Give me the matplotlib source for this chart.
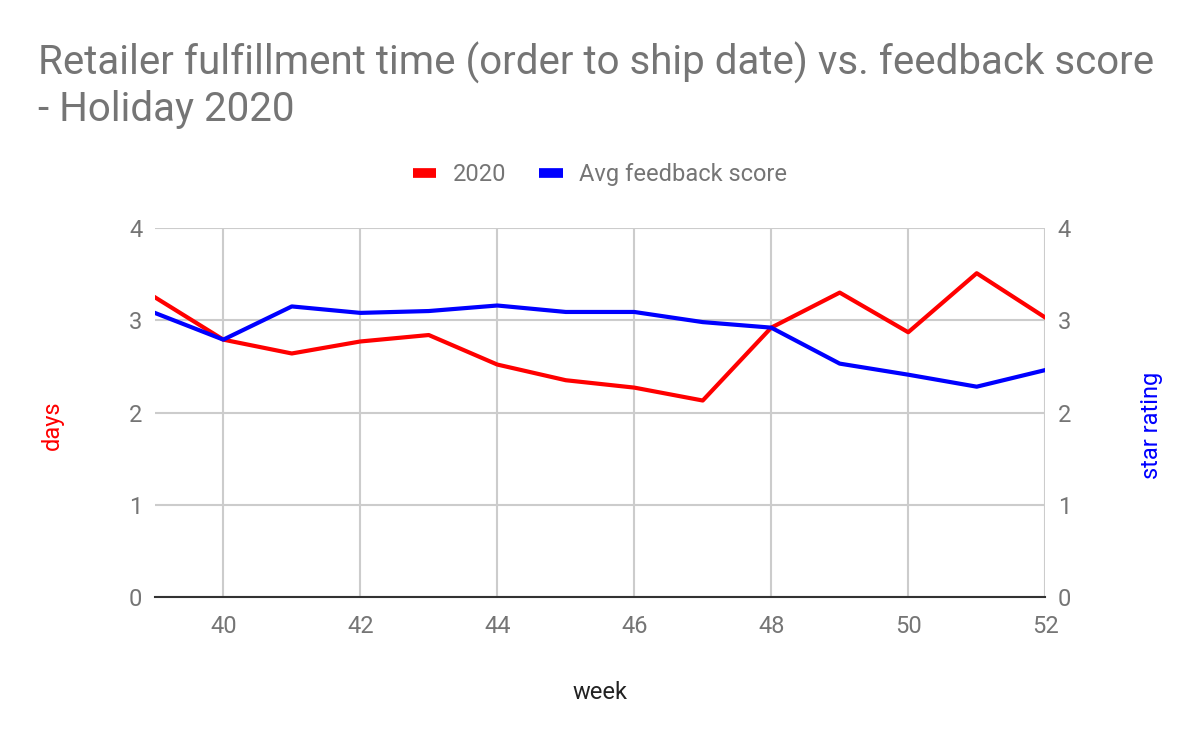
import matplotlib
matplotlib.use("Agg")
import matplotlib.pyplot as plt

plt.rcParams['font.family'] = ['Roboto', 'DejaVu Sans']

weeks = [39, 40, 41, 42, 43, 44, 45, 46, 47, 48, 49, 50, 51, 52]
days_2020 = [3.25, 2.79, 2.64, 2.77, 2.84, 2.52, 2.35, 2.27, 2.13, 2.92, 3.30, 2.87, 3.51, 3.03]
feedback = [3.08, 2.79, 3.15, 3.08, 3.10, 3.16, 3.09, 3.09, 2.98, 2.92, 2.53, 2.41, 2.28, 2.46]
x_ticks = [40, 42, 44, 46, 48, 50, 52]
y_ticks = [0, 1, 2, 3, 4]

grey = '#757575'
grid_c = '#cccccc'

fig = plt.figure(figsize=(12, 7.42), dpi=100)
ax = fig.add_axes([0.129, 0.1954, 0.742, 0.4973])
ax2 = ax.twinx()

ax.plot(weeks, days_2020, color='#ff0000', lw=3, label='2020', zorder=3)
ax2.plot(weeks, feedback, color='#0000ff', lw=3, label='Avg feedback score', zorder=3)

ax.set_xlim(39, 52)
ax.set_ylim(0, 4)
ax2.set_ylim(0, 4)
ax.set_xticks(x_ticks)
ax.set_yticks(y_ticks)
ax2.set_yticks(y_ticks)
ax.grid(True, color=grid_c, lw=1.5)
ax.set_axisbelow(True)

for a in (ax, ax2):
    for s in a.spines.values():
        s.set_visible(False)
    a.tick_params(length=0, labelsize=17, labelcolor=grey, pad=9)
ax.spines['bottom'].set_visible(True)
ax.spines['bottom'].set_color('#333333')
ax.spines['bottom'].set_linewidth(1.5)
ax.tick_params(axis='x', pad=13)

ax.set_ylabel('days', color='#ff0000', fontsize=17)
ax.yaxis.set_label_coords(-0.102, 0.466)
ax2.set_ylabel('star rating', color='#0000ff', fontsize=17, rotation=90)
ax2.yaxis.set_label_coords(1.107, 0.466)
ax.set_xlabel('week', color='#222222', fontsize=17, labelpad=31)

fig.text(0.032, 0.885, 'Retailer fulfillment time (order to ship date) vs. feedback score\n- Holiday 2020',
         fontsize=29, color=grey, ha='left', va='center', linespacing=1.2)

h1, l1 = ax.get_legend_handles_labels()
h2, l2 = ax2.get_legend_handles_labels()
leg = fig.legend(h1 + h2, l1 + l2, loc='center', bbox_to_anchor=(0.5, 0.765), ncol=2,
                 frameon=False, fontsize=17, labelcolor=grey, handlelength=1.0,
                 handletextpad=0.7, columnspacing=1.4)
for line in leg.get_lines():
    line.set_linewidth(7)
    line.set_solid_capstyle('butt')

fig.savefig('out.png', dpi=100)
